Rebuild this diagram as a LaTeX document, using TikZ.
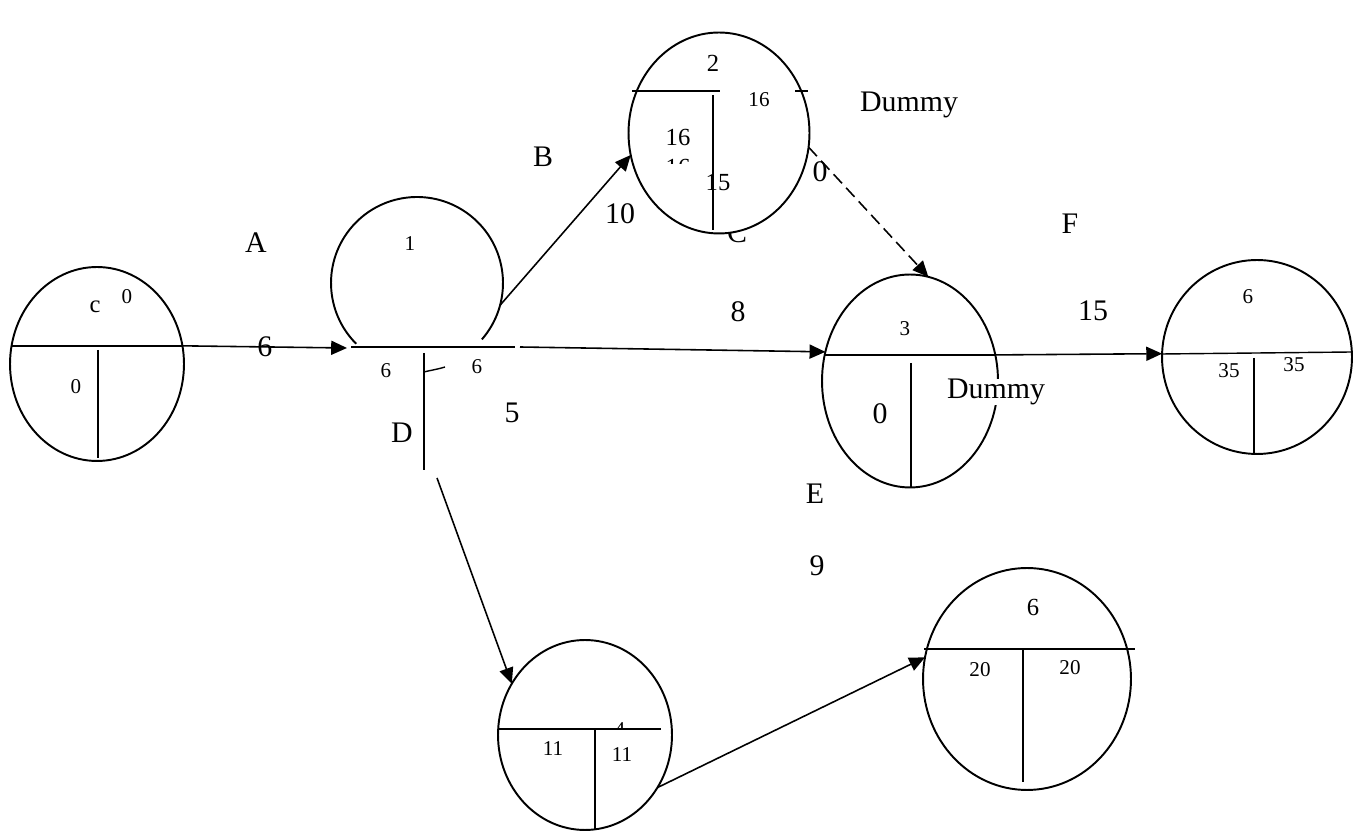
\documentclass[tikz,border=0pt]{standalone}
\usepackage{fontspec}
\setmainfont{Liberation Serif}
\usetikzlibrary{shapes.geometric, arrows.meta, calc}

\begin{document}
\begin{tikzpicture}[
    x=0.02cm, y=0.02cm,
    event/.style={ellipse, draw, line width=1.1pt, inner sep=0pt, outer sep=0pt},
    bar/.style={line width=0.8pt},
    arrow/.style={-{Triangle[length=9pt, width=8pt]}, line width=0.9pt},
    dummy/.style={dash pattern=on 7pt off 3.5pt},
    big/.style={inner sep=1pt, font=\fontsize{17}{17}\selectfont},
    mid/.style={inner sep=1pt, font=\fontsize{14}{14}\selectfont},
    small/.style={inner sep=1pt, font=\fontsize{12}{12}\selectfont}
]
\useasboundingbox (0,0) rectangle (1359,831);
\node[event, minimum width=3.48cm, minimum height=3.88cm] (ev0) at (97,467) {};
\node[circle, inner sep=0pt, outer sep=0pt, minimum size=3.44cm] (ev1) at (417,548) {};
\draw[line width=1.1pt] (ev1.-41) arc[start angle=-41, end angle=225, radius=1.72cm];
\node[event, minimum width=3.62cm, minimum height=4.02cm] (ev2) at (719,698) {};
\node[event, minimum width=3.52cm, minimum height=4.26cm] (ev3) at (910,450) {};
\node[event, minimum width=3.48cm, minimum height=3.80cm] (ev4) at (585,96) {};
\node[event, minimum width=4.16cm, minimum height=4.44cm] (ev5) at (1027,152) {};
\node[event, minimum width=3.80cm, minimum height=3.88cm] (ev6) at (1257,474) {};

\draw[bar] (ev0.168) -- (ev0.12);
\draw[bar] (98,481) -- (98,373);
\draw[bar] (351,484) -- (515,484);
\draw[bar] (424,478) -- (424,361);
\draw[bar] (424,459) .. controls (432,461) and (439,462) .. (445,464);
\draw[bar] (632,740) -- (720,740);
\draw[bar] (795,740) -- (808,740);
\draw[bar] (713,736) -- (713,601);
\draw[bar] (ev3.163) -- (ev3.17);
\draw[bar] (911,468) -- (911,344);
\draw[bar] (1162,477) -- (1352,479);
\draw[bar] (1254,473) -- (1254,377);
\draw[bar] (498,102) -- (661,102);
\draw[bar] (595,102) -- (595,1);
\draw[bar] (924,182) -- (1135,182);
\draw[bar] (1023,182) -- (1023,49);

\coordinate (b1w) at (347,483);
\coordinate (b1e) at (520,484);
\coordinate (dtail) at (437,353);
\draw[arrow] (ev0.12) -- node[big] (wA) {6} (b1w);
\draw[arrow] (ev1.-15) -- (ev2.194);
\draw[arrow] (b1e) -- (ev3.161);
\draw[arrow, dummy] (ev2.-9) -- (ev3.80);
\draw[arrow] (ev3.17) -- (ev6.178);
\draw[arrow] (dtail) -- (ev4.145);
\draw[arrow] (ev4.-36) -- (ev5.168);

\node[big] (lA) at (256,588) {A};
\node[big] (lB) at (543,674) {B};
\node[big] (wB) at (620,617) {10};
\node[big] (lD) at (402,398) {D};
\node[big] (wD) at (512,418) {5};
\node[big] (w8) at (738,519) {8};
\node[big] (lDum1) at (909,726) {Dummy};
\node[big] (wDum1) at (820,659) {0};
\node[big] (lE) at (815,337) {E};
\node[big] (wE) at (817,265) {9};
\node[big] (lF) at (1070,607) {F};
\node[big] (wF) at (1093,520) {15};
\node[big, fill=white, inner sep=0pt] (lDum2) at (996,439) {Dummy};

\node[mid] (c0) at (95,524) {c};
\node[small] (t0) at (127,534) {0};
\node[small] (e0) at (76,444) {0};
\node[small] (n1) at (410,587) {1};
\node[small] (e1) at (386,460) {6};
\node[small] (l1) at (477,464) {6};
\node[mid] (n2) at (713,768) {2};
\node[small] (l2) at (759,731) {16};
\node[mid] (e2) at (678,694) {16};
\node[mid] (s2) at (718,648) {15};
\begin{scope}
\clip (660,667) rectangle (700,676);
\node[mid] (x2) at (678,664) {16};
\end{scope}
\begin{scope}
\clip (715,580) rectangle (760,597);
\node[big] (lC) at (737,598) {C};
\end{scope}
\node[small] (n3) at (905,502) {3};
\node[big] (e3) at (880,417) {0};
\begin{scope}
\clip (605,103) rectangle (635,115);
\node[small] (n4) at (620,101) {4};
\end{scope}
\node[small] (e4) at (553,82) {11};
\node[small] (l4) at (622,76) {11};
\node[mid] (n5) at (1033,224) {6};
\node[small] (e5) at (980,161) {20};
\node[small] (l5) at (1070,163) {20};
\node[small] (n6) at (1248,534) {6};
\node[small] (e6) at (1229,460) {35};
\node[small] (l6) at (1294,466) {35};
\end{tikzpicture}
\end{document}
